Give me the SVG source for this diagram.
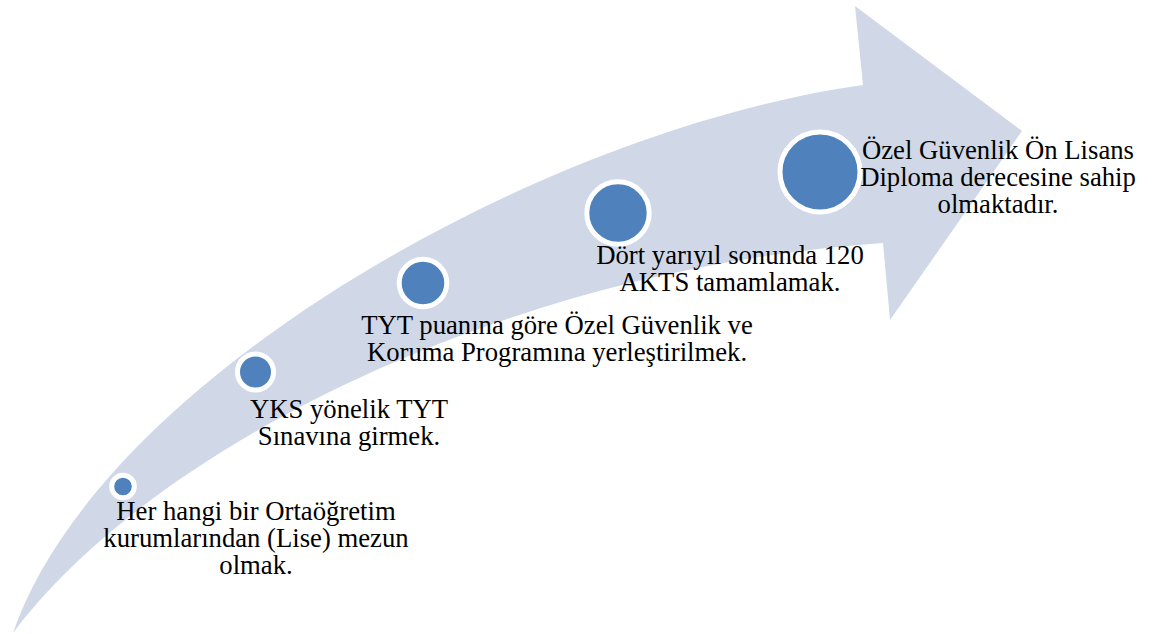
<svg xmlns="http://www.w3.org/2000/svg" width="1154" height="634" viewBox="0 0 1154 634">
<style>
.band{fill:#D0D8E8;stroke:none}
.dot{fill:#4F81BD;stroke:#FFFFFF;stroke-width:5}
.lbl{font-size:26.7px;fill:#000000;text-anchor:middle}
</style>
<rect width="1154" height="634" fill="#FFFFFF"/>
<g id="connectors">
<path id="arrow" class="band" d="M13,633 C100,380 540,130 863,85 L855,6 L1022,131 L890,320 L883,243 C500,270 150,450 13,633 Z"/>
</g>
<g id="node1">
<circle class="dot" cx="123" cy="486.5" r="11.3"/>
<text class="lbl" font-family="Liberation Serif, serif"><tspan x="256" y="520">Her hangi bir Ortaöğretim</tspan><tspan x="256" y="547">kurumlarından (Lise) mezun</tspan><tspan x="256" y="574">olmak.</tspan></text>
</g>
<g id="node2">
<circle class="dot" cx="255.5" cy="372" r="18"/>
<text class="lbl" font-family="Liberation Serif, serif"><tspan x="349" y="418">YKS yönelik TYT</tspan><tspan x="349" y="445">Sınavına girmek.</tspan></text>
</g>
<g id="node3">
<circle class="dot" cx="423" cy="283" r="23.8"/>
<text class="lbl" font-family="Liberation Serif, serif"><tspan x="557" y="334">TYT puanına göre Özel Güvenlik ve</tspan><tspan x="557" y="361">Koruma Programına yerleştirilmek.</tspan></text>
</g>
<g id="node4">
<circle class="dot" cx="618" cy="213" r="31.2"/>
<text class="lbl" font-family="Liberation Serif, serif"><tspan x="730" y="264">Dört yarıyıl sonunda 120</tspan><tspan x="730" y="291">AKTS tamamlamak.</tspan></text>
</g>
<g id="node5">
<circle class="dot" cx="820" cy="172" r="40"/>
<text class="lbl" font-family="Liberation Serif, serif"><tspan x="998" y="159">Özel Güvenlik Ön Lisans</tspan><tspan x="998" y="186">Diploma derecesine sahip</tspan><tspan x="998" y="213">olmaktadır.</tspan></text>
</g>
</svg>
